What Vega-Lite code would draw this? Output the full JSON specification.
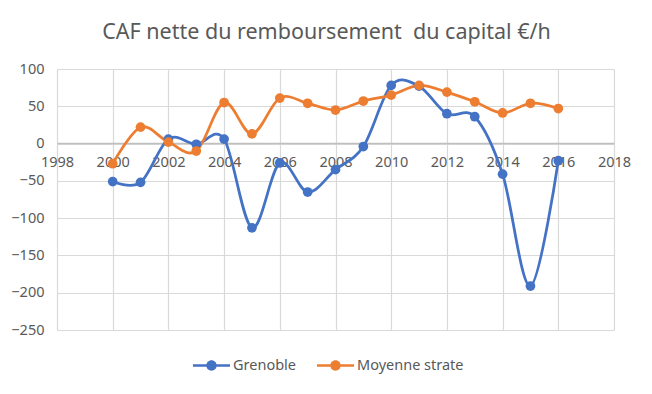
{
  "$schema": "https://vega.github.io/schema/vega-lite/v6.json",
  "width": 557,
  "height": 261,
  "autosize": {"type": "none"},
  "padding": {"left": 57, "top": 69, "right": 38, "bottom": 64},
  "background": "white",
  "title": {
    "text": "CAF nette du remboursement \u00a0du capital €/h",
    "font": "Noto Sans",
    "fontSize": 21.5,
    "fontWeight": "normal",
    "color": "#595959",
    "anchor": "middle",
    "frame": "group",
    "dx": -9,
    "offset": 18
  },
  "data": {
    "values": [
      {"year": 2000, "serie": "Grenoble", "v": -51},
      {"year": 2001, "serie": "Grenoble", "v": -52},
      {"year": 2002, "serie": "Grenoble", "v": 6},
      {"year": 2003, "serie": "Grenoble", "v": -1},
      {"year": 2004, "serie": "Grenoble", "v": 6},
      {"year": 2005, "serie": "Grenoble", "v": -113},
      {"year": 2006, "serie": "Grenoble", "v": -26},
      {"year": 2007, "serie": "Grenoble", "v": -65},
      {"year": 2008, "serie": "Grenoble", "v": -35},
      {"year": 2009, "serie": "Grenoble", "v": -4},
      {"year": 2010, "serie": "Grenoble", "v": 78},
      {"year": 2011, "serie": "Grenoble", "v": 77},
      {"year": 2012, "serie": "Grenoble", "v": 40},
      {"year": 2013, "serie": "Grenoble", "v": 36},
      {"year": 2014, "serie": "Grenoble", "v": -41},
      {"year": 2015, "serie": "Grenoble", "v": -191},
      {"year": 2016, "serie": "Grenoble", "v": -23},
      {"year": 2000, "serie": "Moyenne strate", "v": -27},
      {"year": 2001, "serie": "Moyenne strate", "v": 22},
      {"year": 2002, "serie": "Moyenne strate", "v": 2},
      {"year": 2003, "serie": "Moyenne strate", "v": -10},
      {"year": 2004, "serie": "Moyenne strate", "v": 55},
      {"year": 2005, "serie": "Moyenne strate", "v": 13},
      {"year": 2006, "serie": "Moyenne strate", "v": 61},
      {"year": 2007, "serie": "Moyenne strate", "v": 54},
      {"year": 2008, "serie": "Moyenne strate", "v": 45},
      {"year": 2009, "serie": "Moyenne strate", "v": 57},
      {"year": 2010, "serie": "Moyenne strate", "v": 65},
      {"year": 2011, "serie": "Moyenne strate", "v": 78},
      {"year": 2012, "serie": "Moyenne strate", "v": 69},
      {"year": 2013, "serie": "Moyenne strate", "v": 56},
      {"year": 2014, "serie": "Moyenne strate", "v": 41},
      {"year": 2015, "serie": "Moyenne strate", "v": 54},
      {"year": 2016, "serie": "Moyenne strate", "v": 47}
    ]
  },
  "encoding": {
    "x": {
      "field": "year",
      "type": "quantitative",
      "scale": {"domain": [1998, 2018], "nice": false, "zero": false},
      "axis": {
        "title": null,
        "values": [1998, 2000, 2002, 2004, 2006, 2008, 2010, 2012, 2014, 2016, 2018],
        "format": "d",
        "offset": -187,
        "domainColor": "#bfbfbf",
        "domainWidth": 1.5,
        "ticks": false,
        "labelPadding": 12,
        "labelFont": "Noto Sans",
        "labelFontSize": 14.5,
        "labelColor": "#595959",
        "gridColor": "#d9d9d9",
        "gridWidth": 1.2,
        "labelFlush": false,
        "zindex": 0
      }
    },
    "y": {
      "field": "v",
      "type": "quantitative",
      "scale": {"domain": [-250, 100], "nice": false},
      "axis": {
        "title": null,
        "values": [-250, -200, -150, -100, -50, 0, 50, 100],
        "domain": false,
        "ticks": false,
        "labelPadding": 13,
        "labelFont": "Noto Sans",
        "labelFontSize": 14.5,
        "labelColor": "#595959",
        "gridColor": "#d9d9d9",
        "gridWidth": 1.2
      }
    },
    "color": {
      "field": "serie",
      "type": "nominal",
      "scale": {"domain": ["Grenoble", "Moyenne strate"], "range": ["#4472c4", "#ed7d31"]},
      "legend": {
        "title": null,
        "orient": "none",
        "legendX": 136,
        "legendY": 278,
        "direction": "horizontal",
        "symbolType": "M-1,-0.065H1V0.065H-1Z M0.28,0 A0.28,0.28 0 1,1 -0.28,0 A0.28,0.28 0 1,1 0.28,0Z",
        "symbolSize": 1369,
        "symbolStrokeWidth": 0,
        "symbolOpacity": 1,
        "labelFont": "Noto Sans",
        "labelFontSize": 14.5,
        "labelColor": "#595959",
        "labelOffset": 3,
        "columnPadding": 20
      }
    }
  },
  "layer": [
    {
      "mark": {"type": "line", "interpolate": "cardinal", "strokeWidth": 2.75}
    },
    {
      "mark": {"type": "circle", "size": 95, "opacity": 1}
    }
  ],
  "config": {
    "view": {"stroke": null}
  }
}
